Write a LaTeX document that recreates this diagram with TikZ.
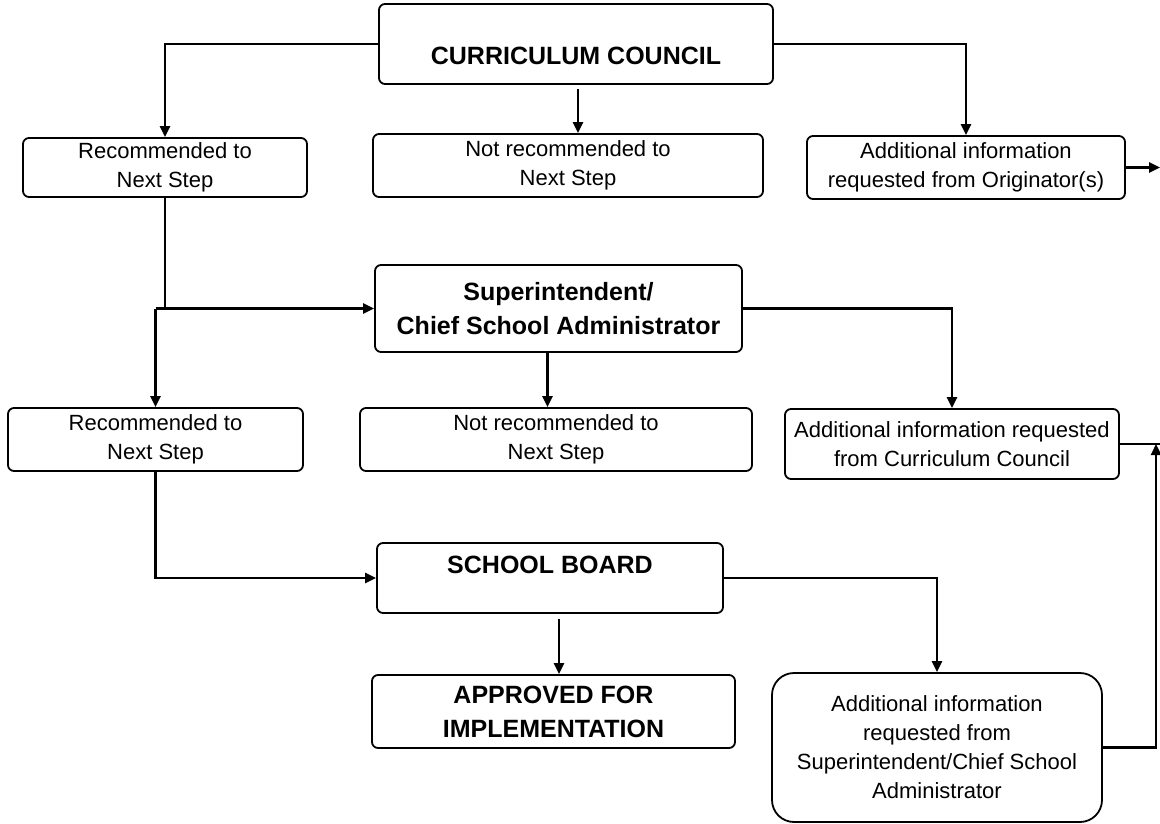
\documentclass[tikz,border=0pt]{standalone}
\usepackage{fontspec}
\setmainfont{Liberation Sans}
\usetikzlibrary{arrows.meta}

\begin{document}
\begin{tikzpicture}[x=1pt, y=-1pt,
    box/.style={draw, line width=1.8pt, rounded corners=6pt, align=center,
        font=\fontsize{22}{29}\selectfont},
    head/.style={box, font=\fontsize{25}{34}\selectfont\bfseries},
    arr/.style={line width=2.4pt, -{Triangle[length=11pt, width=10pt]}},
    ln/.style={line width=2.4pt}]
    \useasboundingbox (0,0) rectangle (1160,824);

    \node[head, minimum width=394pt, minimum height=80pt, inner ysep=0pt,
          text height=61pt, text depth=19pt] (cc) at (576, 44) {CURRICULUM COUNCIL};
    \node[box, minimum width=284pt, minimum height=59pt] (rec1) at (165, 167.5) {Recommended to\\Next Step};
    \node[box, minimum width=390pt, minimum height=63pt] (notrec1) at (568, 165.5) {Not recommended to\\Next Step};
    \node[box, minimum width=318pt, minimum height=63pt] (info1) at (966, 167.5) {Additional information\\requested from Originator(s)};
    \coordinate (out1) at (1160, 168);

    \node[head, minimum width=367pt, minimum height=87pt] (sup) at (558.5, 308.5) {Superintendent/\\Chief School Administrator};
    \node[box, minimum width=295pt, minimum height=63pt] (rec2) at (155.5, 439.5) {Recommended to\\Next Step};
    \node[box, minimum width=392pt, minimum height=63pt] (notrec2) at (556, 439.5) {Not recommended to\\Next Step};
    \node[box, minimum width=334pt, minimum height=70pt] (info2) at (952, 444) {Additional information requested\\from Curriculum Council};
    \coordinate (out2) at (1160, 444);
    \coordinate (back) at (1156, 444);

    \node[head, minimum width=346pt, minimum height=70pt, inner ysep=0pt,
          text height=30pt, text depth=40pt] (board) at (550, 578) {SCHOOL BOARD};
    \node[head, minimum width=363pt, minimum height=73pt] (approved) at (553.5, 711.5) {APPROVED FOR\\IMPLEMENTATION};
    \node[box, rounded corners=22pt, minimum width=330pt, minimum height=149pt] (info3) at (937, 747.5)
        {Additional information\\requested from\\Superintendent/Chief School\\Administrator};

    \draw[arr] (cc.west) -| (rec1.north);
    \draw[arr] ([xshift=2pt, yshift=-4pt]cc.south) -- ([xshift=2pt]cc.south |- notrec1.north);
    \draw[arr] (cc.east) -| (info1.north);
    \draw[arr] (info1.east) -- (info1.east -| out1);

    \draw[arr] (rec1.south) |- (sup.west);
    \draw[arr] (sup.west -| rec2.north) -- (rec2.north);
    \draw[ln] (sup.west -| rec2.north) -- (sup.west -| rec1.south);
    \draw[arr] ([xshift=-11pt]sup.south) -- ([xshift=-11pt]sup.south |- notrec2.north);
    \draw[arr] (sup.east) -| (info2.north);
    \draw[ln] (info2.east) -- (info2.east -| out2);

    \draw[arr] (rec2.south) |- (board.west);
    \draw[arr] ([xshift=9pt, yshift=-5pt]board.south) -- ([xshift=9pt]board.south |- approved.north);
    \draw[arr] (board.east) -| (info3.north);
    \draw[arr] (info3.east) -| (info2.east -| back);
\end{tikzpicture}
\end{document}
